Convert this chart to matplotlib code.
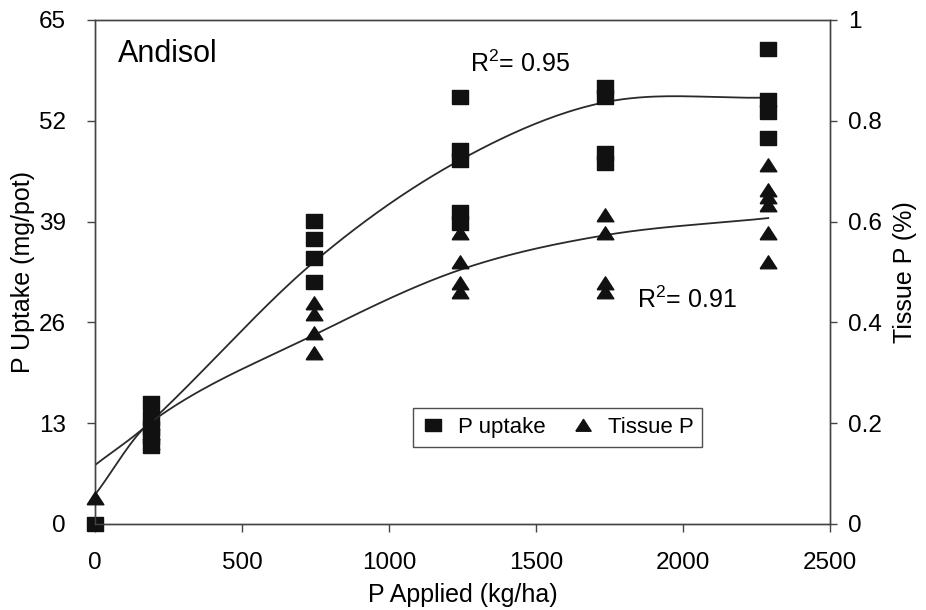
import numpy as np
import matplotlib
matplotlib.use('Agg')
import matplotlib.pyplot as plt
from matplotlib.ticker import FuncFormatter
from matplotlib.lines import Line2D

plt.rcParams['font.family'] = ['Liberation Sans', 'DejaVu Sans']
plt.rcParams['mathtext.fontset'] = 'custom'
plt.rcParams['mathtext.rm'] = 'Liberation Sans'

uptake_x = [0, 190, 190, 190, 190, 190, 745, 745, 745, 745,
            1240, 1240, 1240, 1240, 1240, 1735, 1735, 1735, 1735,
            2290, 2290, 2290, 2290]
uptake_y = [0, 15.6, 13.7, 12.4, 11.2, 10.0, 39.1, 36.8, 34.3, 31.2,
            55.1, 48.2, 46.9, 40.2, 38.8, 56.4, 55.1, 47.8, 46.6,
            61.3, 54.7, 53.1, 49.8]

tissue_x = [0, 190, 190, 190, 745, 745, 745, 745,
            1240, 1240, 1240, 1240, 1735, 1735, 1735, 1735,
            2290, 2290, 2290, 2290, 2290, 2290]
tissue_y = [0.052, 0.20, 0.18, 0.16, 0.438, 0.417, 0.379, 0.339,
            0.577, 0.520, 0.478, 0.460, 0.613, 0.577, 0.478, 0.460,
            0.712, 0.663, 0.649, 0.633, 0.577, 0.520]

# fitted (trend) values at each rate, joined with a smoothed line
fit_x = [0, 190, 745, 1240, 1735, 2290]
fit_uptake = [7.6, 13.2, 33.8, 46.9, 54.4, 55.0]
fit_tissue = [0.058, 0.202, 0.375, 0.504, 0.573, 0.607]


def smooth(xs, ys, n=40):
    # cubic Hermite through the points, tangents from neighbouring points
    xs = np.asarray(xs, float)
    ys = np.asarray(ys, float)
    m = np.empty_like(ys)
    m[0] = (ys[1] - ys[0]) / (xs[1] - xs[0])
    m[-1] = (ys[-1] - ys[-2]) / (xs[-1] - xs[-2])
    m[1:-1] = (ys[2:] - ys[:-2]) / (xs[2:] - xs[:-2])
    ox, oy = [], []
    t = np.linspace(0, 1, n)
    for i in range(len(xs) - 1):
        h = xs[i + 1] - xs[i]
        h00 = 2 * t ** 3 - 3 * t ** 2 + 1
        h10 = t ** 3 - 2 * t ** 2 + t
        h01 = -2 * t ** 3 + 3 * t ** 2
        h11 = t ** 3 - t ** 2
        ox.extend(xs[i] + h * t)
        oy.extend(h00 * ys[i] + h10 * h * m[i] + h01 * ys[i + 1] + h11 * h * m[i + 1])
    return ox, oy


sq = [(-1, -0.8), (1, -0.8), (1, 0.8), (-1, 0.8), (-1, -0.8)]
tri = [(-1, -0.75), (1, -0.75), (0, 0.8), (-1, -0.75)]

fig = plt.figure(figsize=(9.26, 6.10), dpi=100)
ax = fig.add_axes([95 / 926, 86 / 610, 735 / 926, 504 / 610])
ax2 = ax.twinx()

lx, ly = smooth(fit_x, fit_uptake)
ax.plot(lx, ly, color='#2a2a2a', lw=1.3, zorder=2)
ax.plot(uptake_x, uptake_y, ls='none', marker=sq, ms=12, color='#111111',
        zorder=3, clip_on=False)

tx, ty = smooth(fit_x, fit_tissue)
ax2.plot(tx, ty, color='#2a2a2a', lw=1.3, zorder=2)
ax2.plot(tissue_x, tissue_y, ls='none', marker=tri, ms=12, color='#111111',
         zorder=3, clip_on=False)

ax.set_xlim(0, 2500)
ax.set_ylim(0, 65)
ax2.set_ylim(0, 1)
ax.set_xticks(np.arange(0, 2501, 500))
ax.set_yticks(np.arange(0, 66, 13))
ax2.set_yticks(np.arange(0, 1.01, 0.2))
ax2.yaxis.set_major_formatter(FuncFormatter(lambda v, p: '{:g}'.format(round(v, 1))))

for a in (ax, ax2):
    for s in a.spines.values():
        s.set_color('#444444')
        s.set_linewidth(1.0)
ax.tick_params(axis='both', direction='out', length=6, width=1,
               color='#444444', labelsize=17.5)
ax.tick_params(axis='y', pad=15)
ax.tick_params(axis='x', pad=14)
ax2.tick_params(axis='y', direction='out', length=5, width=1,
                color='#444444', labelsize=17.5, pad=8)

ax.set_xlabel('P Applied (kg/ha)', fontsize=18)
ax.set_ylabel('P Uptake (mg/pot)', fontsize=18)
ax2.set_ylabel('Tissue P (%)', fontsize=18)
ax.xaxis.set_label_coords(0.5, -0.118)
ax.yaxis.set_label_coords(-0.082, 0.5)
ax2.yaxis.set_label_coords(1.086, 0.5)

ax.text(78, 59.6, 'Andisol', fontsize=22)
ax.text(1276, 58.3, 'R$^2$= 0.95', fontsize=18)
ax.text(1844, 27.9, 'R$^2$= 0.91', fontsize=18)

handles = [Line2D([], [], ls='none', marker=sq, ms=11, color='#111111'),
           Line2D([], [], ls='none', marker=tri, ms=11, color='#111111')]
leg = ax2.legend(handles, ['P uptake', 'Tissue P'], loc='lower left',
                 bbox_to_anchor=(0.433, 0.153), ncol=2, fontsize=16,
                 frameon=True, fancybox=False, handlelength=1.0,
                 handletextpad=0.6, columnspacing=1.2, borderpad=0.4,
                 borderaxespad=0)
leg.get_frame().set_edgecolor('#222222')
leg.get_frame().set_linewidth(1.0)

fig.savefig('out.png', dpi=100)
